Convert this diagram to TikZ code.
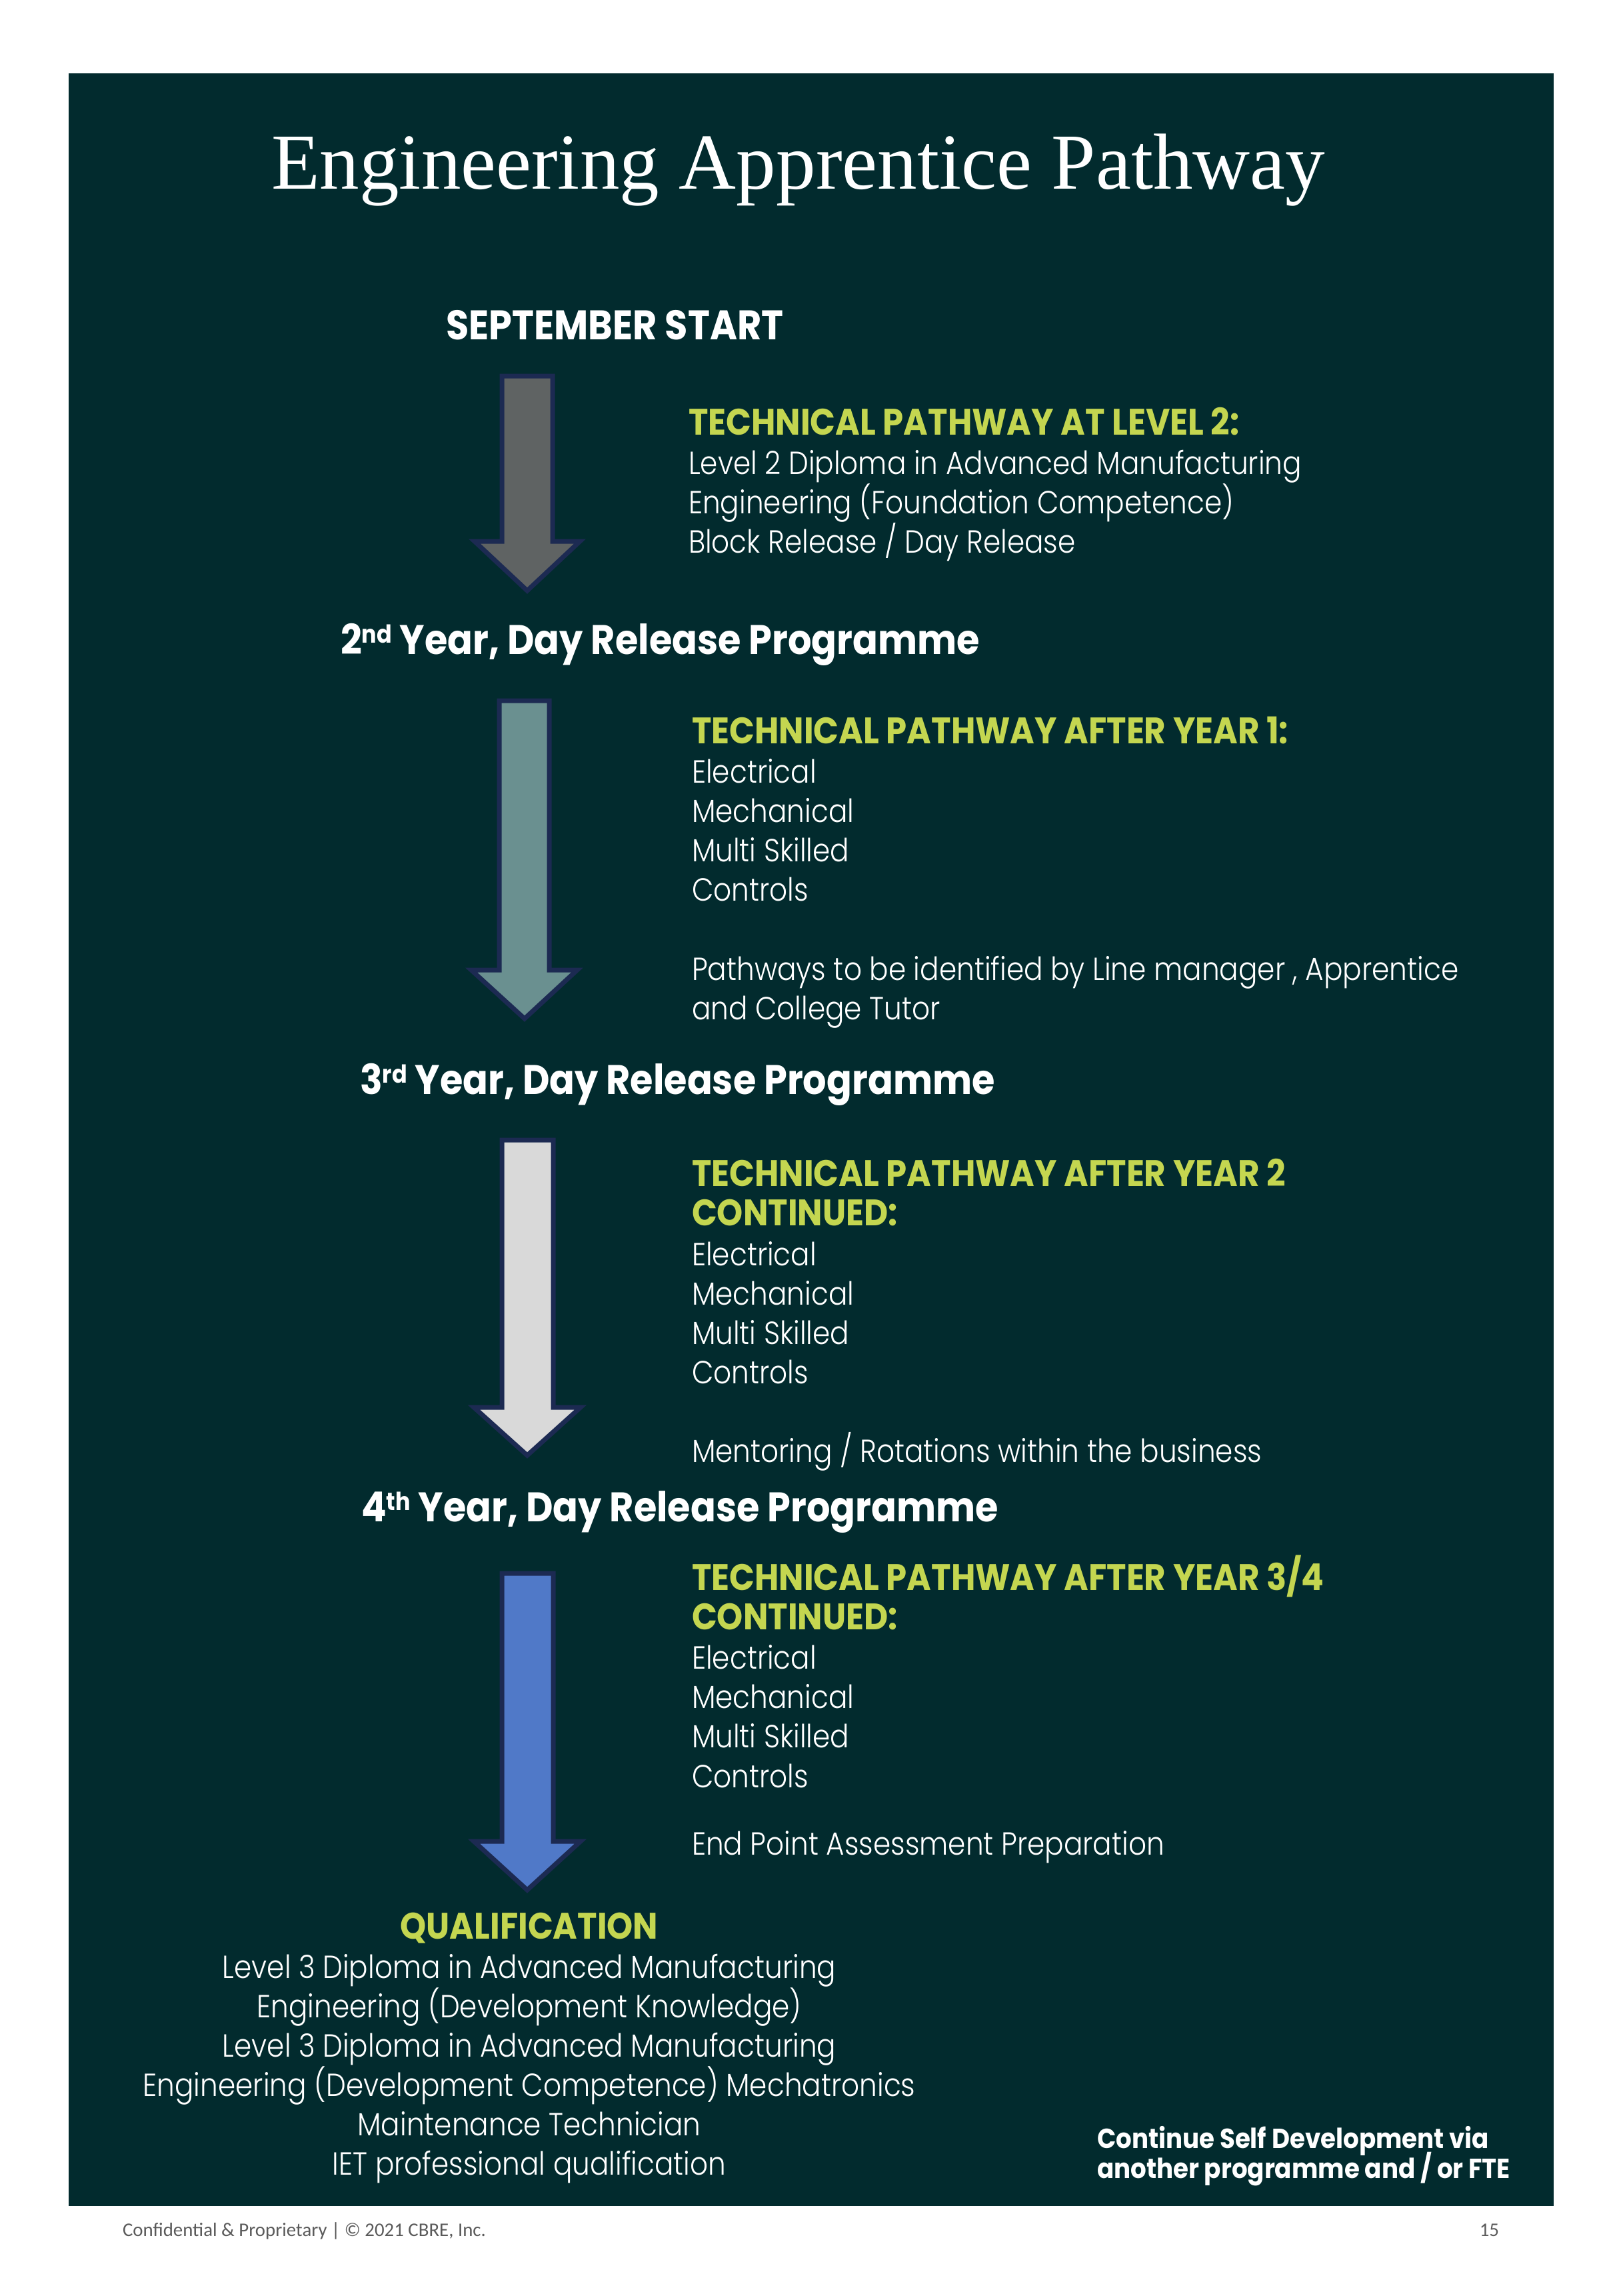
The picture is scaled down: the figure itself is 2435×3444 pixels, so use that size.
\documentclass[tikz,border=0pt]{standalone}
\usepackage{fontspec}
\usepackage{graphicx}
\newfontfamily\titlefont{Liberation Serif}
\newfontfamily\poppins{Poppins}[FakeStretch=0.9]
\IfFontExistsTF{Poppins Light}{\newfontfamily\bodyfont{Poppins Light}[FakeStretch=0.88]}{\newfontfamily\bodyfont{Poppins}[FakeStretch=0.88]}
\newfontfamily\footfont{Carlito}
\definecolor{panel}{RGB}{2,43,46}
\definecolor{cgreen}{RGB}{196,214,80}
\definecolor{arrowline}{RGB}{28,42,82}
\definecolor{afillA}{RGB}{95,99,99}
\definecolor{afillB}{RGB}{106,144,144}
\definecolor{afillC}{RGB}{217,217,217}
\definecolor{afillD}{RGB}{80,121,200}
\definecolor{footgray}{RGB}{90,90,90}
\newlength\fitlen
\newcommand\fitfont[4]{\settowidth{\fitlen}{#2\fontsize{50pt}{60pt}\selectfont #3}\pgfmathsetmacro#1{#4/\fitlen*50}}
\newcommand\supx[1]{\raisebox{0.27em}{\scalebox{0.6}{#1}}}
\tikzset{
  txt/.style={anchor=base west, inner sep=0pt, outer sep=0pt, text=white},
  titletxt/.style={txt, font=\titlefont\fontsize{\tsz pt}{\tsz pt}\selectfont},
  bodytxt/.style={txt, font=\bodyfont\fontsize{\bsz pt}{\bsz pt}\selectfont},
  greenhd/.style={txt, text=cgreen, font=\poppins\bfseries\fontsize{\gsz pt}{\gsz pt}\selectfont},
  yearhd/.style={txt, font=\poppins\bfseries\fontsize{\ysz pt}{\ysz pt}\selectfont},
  notetxt/.style={txt, font=\poppins\bfseries\fontsize{\nsz pt}{\nsz pt}\selectfont},
  foottxt/.style={txt, text=footgray, font=\footfont\fontsize{\fsz pt}{\fsz pt}\selectfont},
  blockarrow/.style={draw=arrowline, line width=7pt, line join=miter},
}
\begin{document}
\fitfont{\tsz}{\titlefont}{Engineering Apprentice Pathway}{1581}%
\fitfont{\bsz}{\bodyfont}{Level 2 Diploma in Advanced Manufacturing}{920}%
\fitfont{\gsz}{\poppins\bfseries}{TECHNICAL PATHWAY AFTER YEAR 1:}{895}%
\fitfont{\ysz}{\poppins\bfseries}{Year, Day Release Programme}{870}%
\fitfont{\nsz}{\poppins\bfseries}{another programme and / or FTE}{620}%
\fitfont{\fsz}{\footfont}{Confidential \& Proprietary | © 2021 CBRE, Inc.}{545}%
\begin{tikzpicture}[x=1pt,y=-1pt]
\useasboundingbox (0,0) rectangle (2435,3444);
\fill[white] (0,0) rectangle (2435,3444);
\fill[panel] (103,110) rectangle (2331,3309);
% title
\node[titletxt] (title) at (407,283) {Engineering Apprentice Pathway};
% arrows
\draw[blockarrow, fill=afillA] (753,564) -- (829,564) -- (829,812) -- (870,812) -- (791,886) -- (712,812) -- (753,812) -- cycle;
\draw[blockarrow, fill=afillB] (749,1051) -- (824,1051) -- (824,1455) -- (866,1455) -- (787,1528) -- (707,1455) -- (749,1455) -- cycle;
\draw[blockarrow, fill=afillC] (753,1710) -- (830,1710) -- (830,2111) -- (871,2111) -- (791,2183) -- (711,2111) -- (753,2111) -- cycle;
\draw[blockarrow, fill=afillD] (753,2360) -- (830,2360) -- (830,2762) -- (871,2762) -- (791,2835) -- (711,2762) -- (753,2762) -- cycle;
% stage headings
\node[yearhd] (sept) at (669,509) {SEPTEMBER START};
\node[yearhd] (y2) at (511,981) {2\supx{nd} Year, Day Release Programme};
\node[yearhd] (y3) at (540,1641) {3\supx{rd} Year, Day Release Programme};
\node[yearhd] (y4) at (542,2282) {4\supx{th} Year, Day Release Programme};
% block 1
\node[greenhd] (a0) at (1033,652) {TECHNICAL PATHWAY AT LEVEL 2:};
\node[bodytxt] (a1) at (1033,711) {Level 2 Diploma in Advanced Manufacturing};
\node[bodytxt] (a2) at (1033,770) {Engineering (Foundation Competence)};
\node[bodytxt] (a3) at (1033,829) {Block Release / Day Release};
% block 2
\node[greenhd] (b0) at (1038,1115) {TECHNICAL PATHWAY AFTER YEAR 1:};
\node[bodytxt] (b1) at (1038,1174) {Electrical};
\node[bodytxt] (b2) at (1038,1233) {Mechanical};
\node[bodytxt] (b3) at (1038,1292) {Multi Skilled};
\node[bodytxt] (b4) at (1038,1351) {Controls};
\node[bodytxt] (b5) at (1038,1470) {Pathways to be identified by Line manager , Apprentice};
\node[bodytxt] (b6) at (1038,1529) {and College Tutor};
% block 3
\node[greenhd] (c0) at (1038,1779) {TECHNICAL PATHWAY AFTER YEAR 2};
\node[greenhd] (c0b) at (1038,1838) {CONTINUED:};
\node[bodytxt] (c1) at (1038,1898) {Electrical};
\node[bodytxt] (c2) at (1038,1957) {Mechanical};
\node[bodytxt] (c3) at (1038,2016) {Multi Skilled};
\node[bodytxt] (c4) at (1038,2075) {Controls};
\node[bodytxt] (c5) at (1038,2193) {Mentoring / Rotations within the business};
% block 4
\node[greenhd] (d0) at (1038,2385) {TECHNICAL PATHWAY AFTER YEAR 3/4};
\node[greenhd] (d0b) at (1038,2444) {CONTINUED:};
\node[bodytxt] (d1) at (1038,2503) {Electrical};
\node[bodytxt] (d2) at (1038,2562) {Mechanical};
\node[bodytxt] (d3) at (1038,2621) {Multi Skilled};
\node[bodytxt] (d4) at (1038,2681) {Controls};
\node[bodytxt] (d5) at (1038,2782) {End Point Assessment Preparation};
% qualification
\node[greenhd, anchor=base] (q0) at (794,2908) {QUALIFICATION};
\node[bodytxt, anchor=base] (q1) at (794,2967) {Level 3 Diploma in Advanced Manufacturing};
\node[bodytxt, anchor=base] (q2) at (794,3026) {Engineering (Development Knowledge)};
\node[bodytxt, anchor=base] (q3) at (794,3085) {Level 3 Diploma in Advanced Manufacturing};
\node[bodytxt, anchor=base] (q4) at (794,3144) {Engineering (Development Competence) Mechatronics};
\node[bodytxt, anchor=base] (q5) at (794,3203) {Maintenance Technician};
\node[bodytxt, anchor=base] (q6) at (794,3262) {IET professional qualification};
% note
\node[notetxt] (n1) at (1646,3222) {Continue Self Development via};
\node[notetxt] (n2) at (1646,3267) {another programme and / or FTE};
% footer
\node[foottxt] (foot) at (184,3354) {Confidential \& Proprietary | © 2021 CBRE, Inc.};
\node[foottxt, anchor=base east] (page) at (2249,3354) {15};
\end{tikzpicture}
\end{document}
